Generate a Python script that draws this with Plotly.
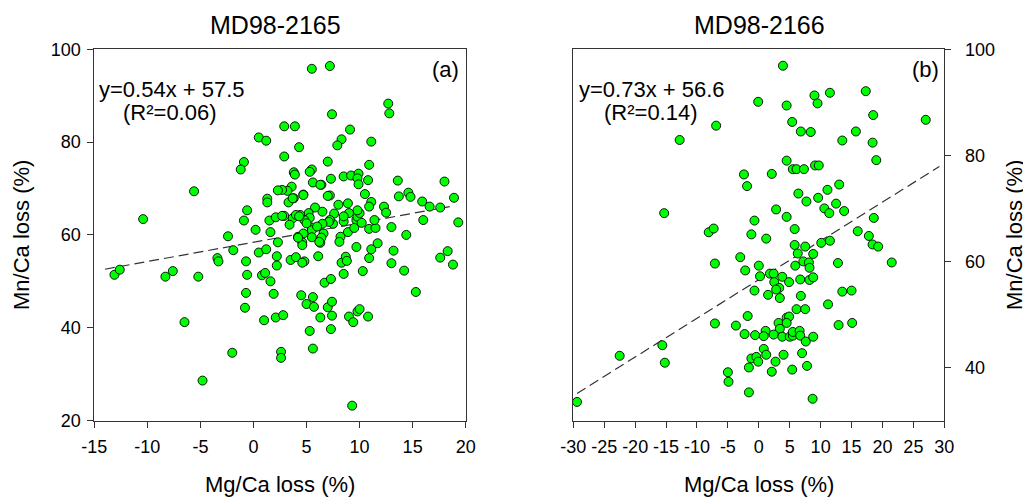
import plotly.graph_objects as go

# ---------------- data ----------------
# Panel (a) MD98-2165
a_mg = [5.5, 7.2, 7.4, 12.7, 12.8, 2.9, 3.9, 0.5, 1.2, 9.1, 8.3, 7.9, 4.3, 11.1, 7.0, -0.9, -1.2, 2.9, 3.8, 3.9,
        5.5, 5.3, 5.6, 6.4, 7.3, 8.5, 9.2, 9.9, 9.8, 9.9, 10.8, 10.9, 13.6, 18.0, 14.6, 14.8, 13.7, 10.5, 11.1, 10.9,
        12.3, 12.5, 15.9, 16.6, 17.6, 18.9, 19.3, 16.0, 13.0, 14.4, 10.9, 11.5, 11.4, 9.7, 9.8, 10.0, 9.8, 8.9, 9.0, 8.9,
        8.2, 8.0, 7.6, 7.5, 8.5, 8.5, 7.2, 7.2, 6.5, 5.8, 5.2, 5.3, 4.8, 4.4, 5.5, 4.7, 3.8, 3.3, 3.6, 3.2,
        2.7, 2.3, 1.3, 1.3, -0.6, -0.9, 1.5, 2.1, 2.9, 3.7, 4.0, 4.3, 0.2, 1.6, -5.6, -10.4, -2.4, 2.3, 4.2, 4.7,
        5.5, 6.3, 6.6, 5.5, 4.6, 4.6, 4.2, 6.4, 6.2, 8.1, 7.1, 2.7, 6.3, 4.7, 3.7, 7.0, 6.5, 6.0, 3.4, 5.0,
        9.5, 10.2,
        -13.1, -12.6, -8.3, -7.6, -5.2, -6.5, -4.8, -2.0, -3.4, -3.3, -1.9, -0.7, -0.6, -0.7, -0.8, 0.5, 1.2, 0.8,
        1.1, 1.6, 1.9, 1.0, 2.1, 2.8, 2.6, 2.6, 2.2, 2.2, 3.5, 4.0, 4.8, 4.6, 6.1, 4.5, 5.0, 5.6, 5.7, 5.3,
        5.6, 6.3, 6.7, 7.3, 7.0, 7.4, 7.4, 7.3, 8.5, 8.3, 8.7, 8.8, 9.0, 9.4, 9.8, 10.0, 10.8, 9.3, 9.7, 10.9,
        11.1, 11.7, 10.3, 13.0, 13.2, 14.2, 15.3, 17.6, 18.3, 18.8]
a_mn = [95.8, 96.4, 86.0, 88.3, 86.2, 83.4, 83.4, 81.0, 80.3, 82.7, 80.6, 79.3, 78.9, 80.1, 75.8, 75.7, 74.1, 76.9, 73.5, 73.0,
        74.1, 73.6, 71.3, 70.8, 72.1, 72.6, 72.8, 73.2, 72.2, 70.9, 71.8, 75.1, 71.7, 71.5, 69.1, 68.2, 68.3, 68.8, 67.1, 66.1,
        66.1, 64.8, 67.2, 66.1, 65.9, 68.0, 62.7, 63.2, 61.7, 60.0, 61.3, 61.5, 63.2, 63.2, 63.9, 64.7, 65.3, 66.8, 64.7, 60.6,
        59.6, 66.5, 64.6, 62.4, 62.9, 64.0, 63.2, 68.5, 65.0, 65.9, 64.7, 63.7, 63.2, 64.3, 61.6, 68.7, 67.9, 67.0, 70.4, 69.5,
        69.7, 69.6, 67.8, 67.0, 65.3, 63.1, 63.1, 63.8, 64.1, 63.6, 64.3, 64.0, 61.1, 60.6, 69.4, 63.4, 59.7, 58.4, 59.6, 60.3,
        61.0, 58.3, 60.3, 59.5, 58.4, 57.8, 59.4, 59.4, 58.5, 58.5, 62.8, 64.1, 70.8, 68.6, 67.9, 68.4, 62.4, 61.8, 62.2, 62.5,
        61.5, 62.6,
        51.4, 52.5, 51.0, 52.2, 51.0, 41.2, 28.6, 34.6, 55.0, 54.3, 56.7, 54.3, 51.4, 47.5, 44.3, 56.2, 56.9, 51.3,
        51.8, 50.0, 47.3, 41.6, 42.2, 42.7, 34.8, 33.5, 55.4, 53.4, 54.6, 55.2, 54.3, 54.0, 55.4, 47.0, 45.1, 46.6, 44.5, 39.3,
        35.5, 42.2, 49.7, 50.5, 44.4, 45.6, 42.6, 39.7, 51.6, 54.0, 55.3, 54.4, 42.4, 41.2, 43.5, 44.0, 42.4, 23.2, 57.4, 55.0,
        56.9, 58.2, 52.2, 53.9, 56.6, 52.3, 47.7, 55.1, 56.5, 53.6]
fit_a_x = [-14.0, 18.5]
fit_a_y = [52.6, 66.1]

# Panel (b) MD98-2166
b_mg = [3.9, -0.1, 4.5, 9.0, 9.5, 11.5, 17.3, 18.5, 27.0, -6.9, -12.8, 5.4, 6.8, 8.4, 15.7, 13.5, 18.4, 19.0, 4.5, 5.5,
        6.1, 7.3, 9.1, 9.7, -2.4, -1.9, 2.1, 6.4, 7.7, 9.6, 11.1, 13.0, 12.5, 10.6, 11.4, 13.8, 2.8, 4.5, -0.7, -15.3,
        -8.1, -7.3, -1.2, 1.2, 5.8, 10.1, 11.5, 16.0, 17.8, 18.6, 18.4, 19.3, 5.8, 7.5,
        8.8, -3.0, -7.1, -2.2, 0.0, 0.2, 1.8, 2.4, 3.8, 5.9, 6.3, 7.2, 8.1, 8.2, 6.7, 8.2, 8.8, 4.9, 2.5, 3.3,
        2.8, -0.7, 1.5, 3.4, 6.8, 12.8, 21.5, 13.5, 15.0, 11.2, 6.1, 7.5, -1.8, -7.1, -3.7, -2.3, 3.2, 3.4, 4.5, 4.9,
        4.5, -0.6, 1.1, 0.8, 2.4, 3.8, 5.0, 5.5, 5.5, 6.6, 6.7, 7.6, 8.8, 12.9, 15.1, 0.8, 1.2, 4.0, -1.2, -0.4,
        -0.1, 2.7, -1.6, 2.1, 5.4, 7.0, 7.8, -5.0, -4.9, -1.6, 8.7, -22.5, -15.6, -15.2, -29.4]
b_mn = [96.9, 90.1, 89.4, 91.3, 89.8, 91.8, 92.1, 87.6, 86.7, 85.6, 82.9, 86.3, 84.5, 84.4, 84.5, 82.8, 82.4, 79.1, 79.0, 77.4,
        77.4, 77.4, 78.1, 78.1, 76.4, 74.2, 76.5, 72.8, 71.3, 72.0, 73.5, 74.5, 70.9, 70.0, 69.1, 69.5, 69.8, 68.4, 67.7, 69.1,
        65.5, 66.2, 65.1, 64.3, 66.1, 63.5, 63.9, 65.7, 64.8, 68.2, 63.2, 62.8, 63.1, 62.8,
        61.4, 60.8, 59.6, 58.3, 59.2, 57.2, 57.7, 57.7, 57.1, 59.2, 61.5, 60.0, 59.8, 58.8, 56.6, 56.5, 57.0, 56.1, 56.1, 55.0,
        54.7, 54.5, 53.7, 53.1, 53.5, 59.7, 59.8, 54.3, 54.5, 51.9, 51.0, 51.0, 49.7, 48.3, 47.9, 46.3, 48.4, 47.3, 49.4, 49.6,
        48.4, 46.1, 46.9, 45.9, 46.2, 45.8, 45.8, 46.0, 46.7, 46.9, 46.0, 44.9, 45.8, 48.0, 48.4, 43.5, 42.4, 42.4, 41.7, 42.0,
        41.1, 41.1, 40.0, 39.2, 39.6, 42.7, 40.3, 39.1, 37.3, 35.3, 34.1, 42.2, 44.2, 40.9, 33.5]
fit_b_x = [-29.4, 29.2]
fit_b_y = [35.1, 77.9]

a_xticks = [-15, -10, -5, 0, 5, 10, 15, 20]
b_xticks = [-30, -25, -20, -15, -10, -5, 0, 5, 10, 15, 20, 25, 30]
a_yticks = [20, 40, 60, 80, 100]
b_yticks = [40, 60, 80, 100]

titles = ["MD98-2165", "MD98-2166"]
equations = ["y=0.54x + 57.5", "y=0.73x + 56.6"]
r2_labels = ["(R\u00b2=0.06)", "(R\u00b2=0.14)"]
panel_labels = ["(a)", "(b)"]
x_title = "Mg/Ca loss (%)"
y_title = "Mn/Ca loss (%)"

# ---------------- figure ----------------
# The page body adds an 8 px offset; positions below are window pixels.
OFF = 8
W, H = 1023, 489
FONT = "Liberation Sans, Arial, sans-serif"


def px(x):
    return (x - OFF) / W


def py(y):
    return (H - (y - OFF)) / H


marker = dict(color="#00ff00", size=9, line=dict(color="black", width=0.9))
dash_line = dict(color="#333333", width=1.2, dash="10px,5px")

fig = go.Figure()
fig.add_trace(go.Scatter(x=fit_a_x, y=fit_a_y, mode="lines", line=dash_line,
                         xaxis="x", yaxis="y", showlegend=False, hoverinfo="skip"))
fig.add_trace(go.Scatter(x=a_mg, y=a_mn, mode="markers", marker=marker,
                         xaxis="x", yaxis="y", showlegend=False, cliponaxis=False))
fig.add_trace(go.Scatter(x=fit_b_x, y=fit_b_y, mode="lines", line=dash_line,
                         xaxis="x2", yaxis="y2", showlegend=False, hoverinfo="skip"))
fig.add_trace(go.Scatter(x=b_mg, y=b_mn, mode="markers", marker=marker,
                         xaxis="x2", yaxis="y2", showlegend=False, cliponaxis=False))

ax_common = dict(showgrid=False, zeroline=False, showline=True, linecolor="#333333", linewidth=1,
                 mirror=True, ticks="outside", ticklen=6, tickcolor="#333333", tickwidth=1,
                 tickangle=0, automargin=False,
                 tickfont=dict(family=FONT, size=18, color="black"))


def labels(vals):
    return [str(v) for v in vals]


ydom = [py(420.5), py(49.3)]
fig.update_layout(
    width=W, height=H,
    margin=dict(l=0, r=0, t=0, b=0, pad=0, autoexpand=False),
    paper_bgcolor="white", plot_bgcolor="white",
    font=dict(family=FONT, color="black"),
    xaxis=dict(domain=[px(94.3), px(465.7)], range=[-15, 20], anchor="y",
               tickmode="array", tickvals=a_xticks, ticktext=labels(a_xticks),
               ticklabelstandoff=4, **ax_common),
    yaxis=dict(domain=ydom, range=[20, 100], anchor="x",
               tickmode="array", tickvals=a_yticks, ticktext=labels(a_yticks),
               ticklabelstandoff=3, **ax_common),
    xaxis2=dict(domain=[px(573.3), px(944.3)], range=[-30, 30], anchor="y2",
                tickmode="array", tickvals=b_xticks, ticktext=labels(b_xticks),
                ticklabelstandoff=4, **ax_common),
    yaxis2=dict(domain=ydom, range=[30, 100], anchor="x2", side="right",
                tickmode="array", tickvals=b_yticks, ticktext=labels(b_yticks),
                ticklabelstandoff=10, **ax_common),
)

ann = []
centers = [280.0, 758.8]
title_x = [275.0, 759.2]
eq_left = [96.7, 577.3]
r2_center = [170.0, 650.5]
lab_right = [460.5, 940.5]
for i in range(2):
    ann.append(dict(text=titles[i], x=px(title_x[i]), y=py(25), xanchor="center", yanchor="middle",
                    font=dict(size=25)))
    ann.append(dict(text=equations[i], x=px(eq_left[i]), y=py(89.5), xanchor="left", yanchor="middle",
                    font=dict(size=22)))
    ann.append(dict(text=r2_labels[i], x=px(r2_center[i]), y=py(112.7), xanchor="center", yanchor="middle",
                    font=dict(size=22)))
    ann.append(dict(text=panel_labels[i], x=px(lab_right[i]), y=py(69), xanchor="right", yanchor="middle",
                    font=dict(size=22)))
    ann.append(dict(text=x_title, x=px(centers[i]), y=py(484), xanchor="center", yanchor="middle",
                    font=dict(size=22)))
ann.append(dict(text=y_title, x=px(21), y=py(235), xanchor="center", yanchor="middle",
                textangle=-90, font=dict(size=22)))
ann.append(dict(text=y_title, x=px(1014), y=py(235), xanchor="center", yanchor="middle",
                textangle=-90, font=dict(size=22)))
for a in ann:
    a.update(xref="paper", yref="paper", showarrow=False)
    a["font"].update(family=FONT, color="black")
fig.update_layout(annotations=ann)

fig.write_html("out.html")
